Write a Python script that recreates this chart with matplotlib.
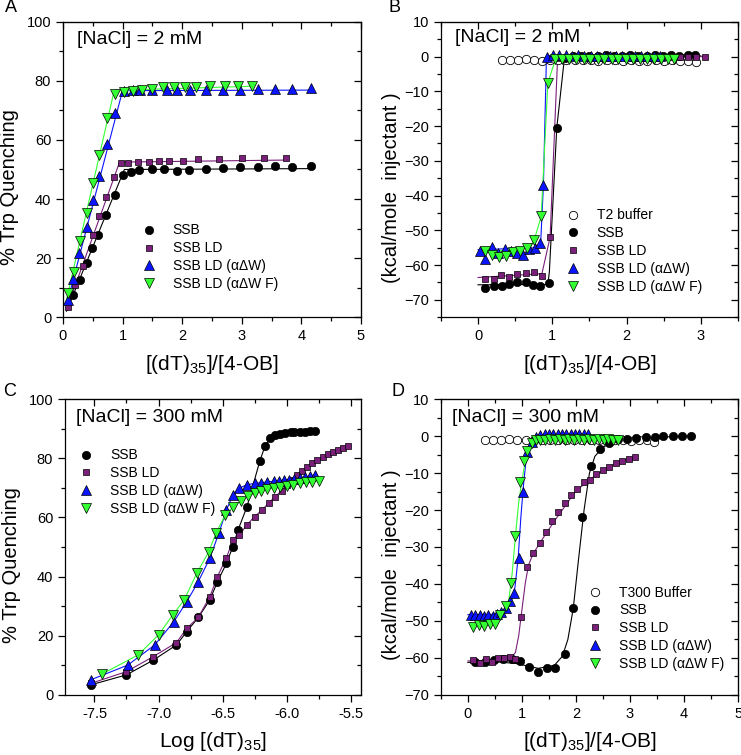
import numpy as np
import matplotlib
matplotlib.use("Agg")
import matplotlib.pyplot as plt
from matplotlib.ticker import MultipleLocator, FormatStrFormatter

plt.rcParams['font.family'] = ['Liberation Sans', 'DejaVu Sans']
plt.rcParams['mathtext.fontset'] = 'custom'
plt.rcParams['mathtext.rm'] = 'Liberation Sans'
plt.rcParams['mathtext.it'] = 'Liberation Sans:italic'

PURPLE = '#7a1f7a'
BLUE = '#0a14ff'
GREEN = '#33ff33'

labels4 = ['SSB', 'SSB LD', 'SSB LD (αΔW)', 'SSB LD (αΔW F)']

# ---- panel A : 2 mM, Trp quenching vs ratio
a_ssb_x = [0.17, 0.29, 0.40, 0.49, 0.59, 0.73, 0.87, 1.01, 1.14, 1.28, 1.50, 1.70, 1.92, 2.12,
           2.40, 2.69, 2.97, 3.27, 3.56, 3.85, 4.16]
a_ssb_y = [7.5, 12.5, 18.2, 23.3, 27.8, 34.6, 41.4, 48.1, 49.3, 49.8, 50.0, 50.0, 49.6, 49.8,
           50.2, 50.6, 51.0, 51.0, 51.3, 51.0, 51.3]
a_ld_x = [0.09, 0.20, 0.33, 0.50, 0.61, 0.73, 0.86, 0.97, 1.09, 1.26, 1.45, 1.62, 1.78, 2.02,
          2.26, 2.62, 3.00, 3.38, 3.74]
a_ld_y = [3.5, 10.8, 17.3, 27.8, 34.2, 40.8, 47.6, 52.1, 52.1, 52.4, 52.6, 52.8, 53.0, 53.0,
          53.4, 53.4, 53.8, 54.0, 54.0]
a_dw_x = [0.09, 0.16, 0.27, 0.40, 0.50, 0.60, 0.74, 0.88, 1.02, 1.17, 1.29, 1.50, 1.74, 1.91,
          2.13, 2.40, 2.68, 2.97, 3.27, 3.56, 3.85, 4.16]
a_dw_y = [5.8, 12.8, 21.6, 30.6, 39.7, 47.8, 58.6, 69.0, 76.7, 77.0, 77.0, 77.0, 77.0, 76.8,
          76.8, 77.0, 77.0, 77.0, 77.2, 77.4, 77.2, 77.5]
a_dwf_x = [0.09, 0.18, 0.29, 0.40, 0.50, 0.60, 0.74, 0.88, 1.02, 1.17, 1.32, 1.50, 1.68, 1.86,
           2.05, 2.23, 2.46, 2.72, 2.94, 3.17]
a_dwf_y = [8.0, 15.4, 25.9, 35.1, 45.3, 54.9, 67.3, 75.5, 76.4, 76.7, 77.0, 77.2, 77.9, 77.9,
           77.9, 78.1, 78.3, 78.4, 78.4, 78.4]
# broken-stick fits
a_fit_ssb = ([0.06, 1.03, 4.16], [2.0, 50.0, 50.3])
a_fit_ld = ([0.06, 0.95, 3.75], [2.5, 52.5, 53.2])
a_fit_dw = ([0.06, 1.00, 4.16], [4.0, 76.7, 76.9])
a_fit_dwf = ([0.06, 0.86, 3.17], [6.0, 76.8, 78.2])

# ---- panel B : 2 mM, ITC
b_buf_x = [0.32, 0.43, 0.54, 0.64, 0.75, 0.86, 0.97, 1.08, 1.19, 1.30, 1.41, 1.52, 1.62, 1.73,
           1.84, 1.95, 2.06, 2.17, 2.28, 2.39, 2.50, 2.61, 2.72, 2.83, 2.94]
b_buf_y = [-1.1, -1.0, -0.9, -0.8, -0.9, -1.2, -1.0, -0.9, -1.0, -1.1, -0.9, -1.0, -1.2, -1.0,
           -1.1, -1.3, -1.0, -1.4, -1.2, -1.0, -1.3, -1.1, -1.4, -1.2, -1.5]
b_ssb_x = [0.10, 0.21, 0.32, 0.42, 0.53, 0.64, 0.74, 0.84, 0.95, 1.06, 1.17, 1.28, 1.39, 1.50,
           1.61, 1.72, 1.83, 1.94, 2.05, 2.16, 2.27, 2.38, 2.49, 2.60, 2.71, 2.82, 2.92]
b_ssb_y = [-66.5, -66.0, -66.1, -65.6, -64.9, -64.8, -65.8, -66.1, -65.3, -20.5, -0.3, 0.2, 0.1,
           0.3, 0.2, 0.4, 0.3, 0.2, 0.4, 0.3, 0.2, 0.4, 0.3, 0.5, 0.3, 0.6, 0.4]
b_ld_x = [0.10, 0.21, 0.31, 0.42, 0.53, 0.64, 0.75, 0.86, 0.97, 1.08, 1.19, 1.30, 1.41, 1.52,
          1.62, 1.73, 1.84, 1.95, 2.06, 2.17, 2.28, 2.39, 2.50, 2.61, 2.72, 2.83, 2.94, 3.05]
b_ld_y = [-64.1, -64.1, -63.0, -63.5, -62.7, -62.2, -61.9, -63.1, -51.9, -0.5, -0.2, 0.0, -0.1,
          0.0, 0.1, 0.0, 0.0, 0.1, 0.0, -0.1, 0.0, 0.1, 0.0, 0.0, -0.1, 0.0, 0.0, 0.0]
b_dw_x = [0.02, 0.09, 0.19, 0.27, 0.36, 0.44, 0.52, 0.61, 0.69, 0.77, 0.84, 0.88, 0.93, 1.01,
          1.09, 1.18, 1.26, 1.35, 1.43, 1.52, 1.60, 1.69, 1.77, 1.86, 1.94, 2.03, 2.11, 2.20,
          2.28, 2.37, 2.45]
b_dw_y = [-55.9, -58.4, -54.8, -56.5, -55.5, -55.9, -56.5, -57.1, -55.5, -55.0, -53.8, -37.1,
          -0.2, 0.4, 0.4, 0.4, 0.3, 0.4, 0.3, 0.2, 0.3, 0.3, 0.2, 0.3, 0.2, 0.3, 0.2, 0.3, 0.2,
          0.3, 0.2]
b_dwf_x = [0.09, 0.19, 0.28, 0.38, 0.47, 0.57, 0.66, 0.75, 0.85, 0.94, 1.04, 1.13, 1.23, 1.32,
           1.42, 1.51, 1.61, 1.70, 1.80, 1.89, 1.99, 2.08, 2.18, 2.27, 2.37, 2.46, 2.56, 2.64]
b_dwf_y = [-55.9, -57.1, -57.8, -57.4, -56.2, -55.9, -55.2, -52.7, -46.0, -7.5, -0.8, -0.8,
           -0.7, -0.8, -0.6, -0.7, -0.8, -0.6, -0.7, -0.8, -0.7, -0.6, -0.8, -0.7, -0.7, -0.8,
           -0.7, -0.8]
b_fit_ssb = ([0.0, 0.94, 0.96, 1.06, 1.16, 1.20, 3.0], [-65.7, -65.6, -62.0, -20.5, -1.0, -0.2, 0.2])
b_fit_ld = ([0.0, 0.86, 0.97, 1.07, 1.12, 3.05], [-63.6, -62.5, -52.0, -1.0, -0.3, 0.0])
b_fit_dw = ([0.0, 0.84, 0.88, 0.92, 0.95, 2.45], [-55.6, -55.0, -37.0, -1.0, 0.3, 0.3])
b_fit_dwf = ([0.05, 0.70, 0.76, 0.85, 0.94, 1.04, 2.64], [-56.5, -55.0, -52.5, -46.0, -7.5, -1.0, -0.8])

# ---- panel C : 300 mM, Trp quenching vs log conc
c_ssb_x = [-7.53, -7.25, -7.04, -6.86, -6.78, -6.69, -6.60, -6.54, -6.47, -6.42, -6.38, -6.31,
           -6.21, -6.17, -6.13, -6.09, -6.05, -6.01, -5.97, -5.94, -5.90, -5.86, -5.82, -5.78]
c_ssb_y = [3.4, 6.8, 11.8, 16.9, 21.4, 26.2, 32.1, 38.3, 44.5, 50.1, 55.7, 63.6, 79.0, 84.0,
           86.7, 87.8, 88.2, 88.5, 88.7, 88.8, 88.9, 89.0, 89.1, 89.2]
c_ld_x = [-7.53, -7.25, -7.04, -6.86, -6.78, -6.69, -6.60, -6.54, -6.47, -6.42, -6.37, -6.31,
          -6.25, -6.19, -6.14, -6.09, -6.04, -6.00, -5.96, -5.92, -5.88, -5.84, -5.80, -5.76,
          -5.72, -5.68, -5.64, -5.60, -5.56, -5.52]
c_ld_y = [3.9, 7.9, 13.0, 17.7, 22.5, 26.2, 33.2, 40.0, 46.4, 52.2, 54.0, 57.5, 60.3, 62.6,
          64.9, 67.0, 69.0, 71.0, 72.8, 74.3, 75.7, 77.0, 78.3, 79.5, 80.4, 81.3, 82.1, 82.8,
          83.5, 84.2]
c_dw_x = [-7.53, -7.24, -7.03, -6.88, -6.78, -6.69, -6.60, -6.53, -6.47, -6.42, -6.37, -6.31,
          -6.25, -6.20, -6.15, -6.10, -6.06, -6.02, -5.98, -5.94, -5.90, -5.86, -5.82, -5.78]
c_dw_y = [5.1, 10.1, 16.9, 24.8, 31.5, 38.3, 46.2, 54.6, 62.5, 67.6, 69.9, 71.0, 71.5, 71.7,
          72.0, 72.2, 72.4, 72.6, 72.8, 73.0, 73.3, 73.6, 73.9, 74.2]
c_dwf_x = [-7.44, -7.16, -7.00, -6.89, -6.80, -6.70, -6.61, -6.55, -6.48, -6.42, -6.36, -6.30,
           -6.25, -6.20, -6.15, -6.10, -6.05, -6.00, -5.95, -5.90, -5.85, -5.80, -5.75]
c_dwf_y = [7.1, 13.5, 20.3, 27.0, 32.1, 41.3, 48.2, 54.8, 60.8, 63.5, 65.5, 67.2, 68.3, 69.0,
           69.5, 69.9, 70.3, 70.7, 71.1, 71.5, 71.8, 72.1, 72.3]

# ---- panel D : 300 mM, ITC
d_buf_x = [0.32, 0.46, 0.61, 0.76, 0.91, 1.07, 1.22, 1.37, 1.52, 1.67, 1.82, 1.97, 2.12, 2.27,
           2.42, 2.57, 2.72, 2.87, 3.02, 3.17, 3.32, 3.45]
d_buf_y = [-1.1, -1.0, -1.0, -0.9, -1.0, -1.1, -1.0, -1.0, -1.1, -1.0, -1.2, -1.0, -1.1, -1.2,
           -1.0, -1.1, -1.2, -1.0, -1.3, -1.1, -1.2, -1.5]
d_ssb_x = [0.14, 0.31, 0.48, 0.65, 0.81, 0.97, 1.13, 1.29, 1.46, 1.62, 1.79, 1.95, 2.12, 2.28,
           2.45, 2.61, 2.78, 2.95, 3.12, 3.29, 3.46, 3.62, 3.79, 3.96, 4.13]
d_ssb_y = [-61.2, -61.2, -60.5, -60.4, -60.4, -60.8, -62.5, -63.7, -62.6, -62.6, -58.9, -46.6,
           -21.8, -8.0, -3.6, -1.8, -0.9, -0.7, -0.6, -0.4, -0.2, -0.1, 0.0, 0.0, 0.0]
d_ld_x = [0.10, 0.22, 0.34, 0.45, 0.56, 0.67, 0.78, 0.88, 0.98, 1.10, 1.21, 1.33, 1.44, 1.56,
          1.67, 1.79, 1.90, 2.02, 2.14, 2.26, 2.38, 2.50, 2.62, 2.74, 2.86, 2.98, 3.10]
d_ld_y = [-60.5, -61.3, -60.4, -61.2, -60.0, -59.9, -59.8, -60.2, -48.9, -35.5, -31.5, -29.0,
          -26.0, -23.0, -20.5, -18.2, -16.0, -14.3, -12.5, -11.8, -10.2, -9.2, -8.3, -7.4, -6.7,
          -6.1, -5.8]
d_dw_x = [0.06, 0.14, 0.22, 0.30, 0.38, 0.46, 0.54, 0.62, 0.70, 0.78, 0.86, 0.94, 1.02, 1.10,
          1.18, 1.26, 1.34, 1.42, 1.50, 1.58, 1.66, 1.74, 1.82, 1.90, 1.98, 2.06, 2.14, 2.22]
d_dw_y = [-48.4, -48.5, -48.4, -48.6, -48.3, -48.6, -48.2, -47.6, -46.5, -44.5, -42.3, -33.0,
          -15.2, -4.2, -1.5, -0.2, 0.3, 0.5, 0.5, 0.6, 0.5, 0.6, 0.5, 0.6, 0.5, 0.6, 0.5, 0.6]
d_dwf_x = [0.10, 0.20, 0.30, 0.40, 0.50, 0.60, 0.70, 0.79, 0.88, 0.96, 1.03, 1.10, 1.18, 1.26,
           1.34, 1.43, 1.52, 1.61, 1.70, 1.79, 1.88, 1.97, 2.06, 2.15, 2.24, 2.33, 2.42, 2.51,
           2.60, 2.69, 2.78]
d_dwf_y = [-51.5, -51.2, -51.3, -50.7, -50.8, -48.4, -46.0, -39.7, -27.0, -12.4, -6.7, -4.0,
           -2.0, -1.2, -1.0, -1.0, -0.9, -1.0, -0.9, -1.0, -0.9, -1.0, -0.9, -1.0, -0.9, -1.0,
           -0.9, -1.0, -0.9, -1.0, -1.0]
d_fit_ssb = ([0.0, 0.5, 0.9, 1.3, 1.6, 1.75, 1.85, 1.95, 2.05, 2.15, 2.25, 2.35, 2.5, 2.7, 3.0, 3.5, 4.2],
             [-61.2, -61.0, -61.5, -62.8, -62.0, -59.5, -55.0, -46.6, -33.0, -20.0, -10.0, -5.5,
              -3.0, -1.6, -0.8, -0.3, 0.0])
d_fit_ld = ([0.0, 0.5, 0.8, 0.88, 0.94, 1.0, 1.06, 1.12, 1.2, 1.35, 1.6, 2.0, 2.4, 2.8, 3.12],
            [-60.8, -60.6, -60.0, -58.5, -54.0, -47.0, -40.0, -35.0, -32.0, -28.5, -23.0, -14.8,
             -10.2, -6.9, -5.8])
d_fit_dw = ([0.0, 0.5, 0.7, 0.8, 0.87, 0.93, 0.98, 1.03, 1.08, 1.15, 1.25, 1.4, 2.22],
            [-48.3, -48.2, -47.5, -45.0, -41.0, -33.0, -22.0, -13.0, -6.0, -2.0, -0.3, 0.3, 0.5])
d_fit_dwf = ([0.05, 0.45, 0.6, 0.7, 0.76, 0.82, 0.88, 0.94, 1.0, 1.06, 1.15, 1.3, 1.6, 2.78],
             [-51.5, -50.5, -49.0, -47.0, -44.0, -37.0, -27.0, -18.0, -12.0, -7.0, -3.5, -1.5,
              -1.0, -1.0])

STYLES = [dict(marker='o', color='black', ms=6.0),
          dict(marker='s', color=PURPLE, ms=5.0),
          dict(marker='^', color=BLUE, ms=6.5),
          dict(marker='v', color=GREEN, ms=6.5)]
LINECOL = ['black', PURPLE, BLUE, GREEN]

TICKFS = 10.5
XLAB = r'[(dT)$_{35}$]/[4-OB]'


def style_axes(ax, xmaj, xmin, ymaj, ymin):
    ax.xaxis.set_major_locator(MultipleLocator(xmaj))
    ax.xaxis.set_minor_locator(MultipleLocator(xmin))
    ax.yaxis.set_major_locator(MultipleLocator(ymaj))
    ax.yaxis.set_minor_locator(MultipleLocator(ymin))
    ax.tick_params(which='major', direction='out', length=5, width=0.9, labelsize=TICKFS)
    ax.tick_params(which='minor', direction='out', length=3, width=0.9)
    for sp in ax.spines.values():
        sp.set_linewidth(0.9)
    # mirrored ticks on top/right pointing inward
    top = ax.secondary_xaxis('top')
    top.xaxis.set_major_locator(MultipleLocator(xmaj))
    top.xaxis.set_minor_locator(MultipleLocator(xmin))
    top.tick_params(which='major', direction='in', length=5, width=0.9, labeltop=False)
    top.tick_params(which='minor', direction='in', length=3, width=0.9)
    right = ax.secondary_yaxis('right')
    right.yaxis.set_major_locator(MultipleLocator(ymaj))
    right.yaxis.set_minor_locator(MultipleLocator(ymin))
    right.tick_params(which='major', direction='in', length=5, width=0.9, labelright=False)
    right.tick_params(which='minor', direction='in', length=3, width=0.9)


def plot_series(ax, xs, ys, fits=None, connect=False):
    for i, (x, y) in enumerate(zip(xs, ys)):
        st = STYLES[i]
        if fits is not None:
            ax.plot(fits[i][0], fits[i][1], '-', color=LINECOL[i], lw=0.8, zorder=2)
        elif connect:
            ax.plot(x, y, '-', color=LINECOL[i], lw=0.8, zorder=2)
        ax.plot(x, y, ls='none', marker=st['marker'], ms=st['ms'], mfc=st['color'],
                mec='black', mew=0.5, label=labels4[i], zorder=3)


def add_legend(fig, ax, loc_xy):
    leg = ax.legend(loc='upper left', bbox_to_anchor=loc_xy, bbox_transform=fig.transFigure,
                    frameon=False, fontsize=10, handlelength=1.0, handletextpad=1.2,
                    labelspacing=0.28, borderpad=0, borderaxespad=0)
    return leg


fig = plt.figure(figsize=(7.41, 7.55), dpi=100)
axA = fig.add_axes([0.085, 0.580, 0.402, 0.391])
axB = fig.add_axes([0.595, 0.580, 0.401, 0.391])
axC = fig.add_axes([0.0877, 0.0795, 0.3995, 0.392])
axD = fig.add_axes([0.595, 0.0795, 0.401, 0.392])

# A
plot_series(axA, [a_ssb_x, a_ld_x, a_dw_x, a_dwf_x], [a_ssb_y, a_ld_y, a_dw_y, a_dwf_y],
            fits=[a_fit_ssb, a_fit_ld, a_fit_dw, a_fit_dwf])
axA.set_xlim(0, 5)
axA.set_ylim(0, 100)
style_axes(axA, 1, 0.5, 20, 10)
axA.set_ylabel('% Trp Quenching', fontsize=14.5)
axA.set_xlabel(XLAB, fontsize=15)
add_legend(fig, axA, (0.192, 0.704))

# B
axB.plot(b_buf_x, b_buf_y, ls='none', marker='o', ms=6.0, mfc='white', mec='black', mew=0.6,
         label='T2 buffer', zorder=3)
plot_series(axB, [b_ssb_x, b_ld_x, b_dw_x, b_dwf_x], [b_ssb_y, b_ld_y, b_dw_y, b_dwf_y],
            fits=[b_fit_ssb, b_fit_ld, b_fit_dw, b_fit_dwf])
axB.set_xlim(-0.5, 3.5)
axB.set_ylim(-75, 10)
style_axes(axB, 1, 0.5, 10, 5)
axB.set_ylabel('(kcal/mole  injectant )', fontsize=14.5)
axB.set_xlabel(XLAB, fontsize=15)
add_legend(fig, axB, (0.764, 0.724))

# C
plot_series(axC, [c_ssb_x, c_ld_x, c_dw_x, c_dwf_x], [c_ssb_y, c_ld_y, c_dw_y, c_dwf_y],
            connect=True)
axC.set_xlim(-7.73, -5.42)
axC.set_ylim(0, 100)
style_axes(axC, 0.5, 0.25, 20, 10)
axC.xaxis.set_major_formatter(FormatStrFormatter('%.1f'))
axC.set_ylabel('% Trp Quenching', fontsize=14.5)
axC.set_xlabel(r'Log [(dT)$_{35}$]', fontsize=15)
add_legend(fig, axC, (0.107, 0.406))

# D
axD.plot(d_buf_x, d_buf_y, ls='none', marker='o', ms=6.0, mfc='white', mec='black', mew=0.6,
         label='T300 Buffer', zorder=3)
plot_series(axD, [d_ssb_x, d_ld_x, d_dw_x, d_dwf_x], [d_ssb_y, d_ld_y, d_dw_y, d_dwf_y],
            fits=[d_fit_ssb, d_fit_ld, d_fit_dw, d_fit_dwf])
axD.set_xlim(-0.5, 5)
axD.set_ylim(-70, 10)
style_axes(axD, 1, 0.5, 10, 5)
axD.set_ylabel('(kcal/mole  injectant )', fontsize=14.5)
axD.set_xlabel(XLAB, fontsize=15)
add_legend(fig, axD, (0.794, 0.2245))

# label positions (axes coords)
for ax in (axA, axC):
    ax.yaxis.set_label_coords(-0.148, 0.44)
for ax in (axB, axD):
    ax.yaxis.set_label_coords(-0.135, 0.44)
for ax in (axA, axB, axC, axD):
    ax.xaxis.set_label_coords(0.5, -0.12)

# salt concentration annotations
fig.text(77 / 741, 1 - 39 / 755, '[NaCl] = 2 mM', fontsize=14, va='center', ha='left')
fig.text(455 / 741, 1 - 38 / 755, '[NaCl] = 2 mM', fontsize=14, va='center', ha='left')
fig.text(76 / 741, 1 - 417 / 755, '[NaCl] = 300 mM', fontsize=14, va='center', ha='left')
fig.text(452 / 741, 1 - 417 / 755, '[NaCl] = 300 mM', fontsize=14, va='center', ha='left')

# panel letters
for letter, (px, py) in zip('ABCD', [(11, 8), (394, 8), (10, 391), (398, 391)]):
    fig.text(px / 741, 1 - py / 755, letter, fontsize=13, ha='center', va='center')

fig.savefig('out.png', dpi=100)
